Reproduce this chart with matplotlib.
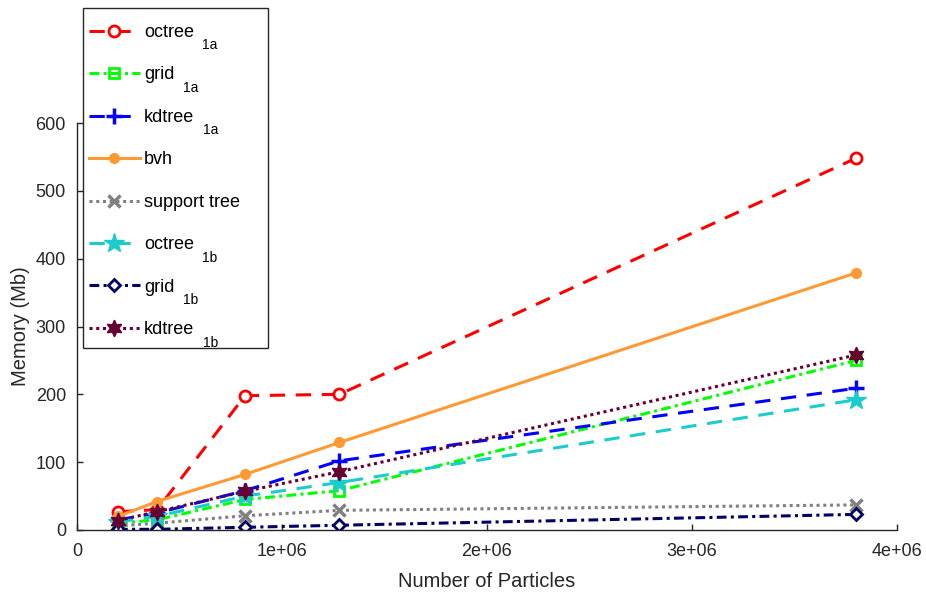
import numpy as np
import matplotlib
matplotlib.use('Agg')
from matplotlib import pyplot as plt
from matplotlib.patches import Rectangle

plt.rcParams['font.family'] = ['Liberation Sans', 'DejaVu Sans']

# particle counts and memory use (Mb) per structure
particles = [2.0e5, 3.9e5, 8.2e5, 1.28e6, 3.8e6]
octree_1a = [27, 30, 198, 200, 548]
grid_1a = [10, 15, 45, 58, 250]
kdtree_1a = [15, 25, 58, 102, 209]
bvh = [20, 42, 82, 129, 379]
support_tree = [6, 10, 21, 29, 37]
octree_1b = [12, 20, 50, 70, 192]
grid_1b = [1, 1, 4, 7, 23]
kdtree_1b = [14, 27, 57, 86, 258]

names = ['octree', 'grid', 'kdtree', 'bvh', 'support tree', 'octree', 'grid', 'kdtree']
subscripts = ['1a', '1a', '1a', '', '', '1b', '1b', '1b']

x_ticks = [0, 1e6, 2e6, 3e6, 4e6]
x_tick_labels = ['0', '1e+06', '2e+06', '3e+06', '4e+06']
y_ticks = [0, 100, 200, 300, 400, 500, 600]

dark = '#262626'
lw = 2.2
dash = (5, 3.5)
dashdot = (3.2, 1.4, 1, 1.4)
dot = (1, 1.2)

W, H = 926, 593
fig = plt.figure(figsize=(W / 100, H / 100), dpi=100)
ax = fig.add_axes([77 / W, 1 - 530 / H, 820 / W, 407 / H])

ax.plot(particles, octree_1a, color='red', lw=lw, dashes=dash, marker='o', ms=8,
        mfc='white', mec='red', mew=2, label=names[0])
ax.plot(particles, grid_1a, color='#00ff00', lw=lw, dashes=dashdot, marker='s', ms=7.5,
        mfc='none', mec='#00ff00', mew=2, label=names[1])
ax.plot(particles, kdtree_1a, color='blue', lw=lw, dashes=dash, marker='+', ms=11,
        mew=2.5, label=names[2])
ax.plot(particles, bvh, color='#ff9933', lw=lw, ls='-', marker='o', ms=7,
        mfc='#ff9933', mec='#ff9933', label=names[3])
ax.plot(particles, support_tree, color='#808080', lw=lw, dashes=dot, marker='x', ms=8,
        mew=2.5, label=names[4])
ax.plot(particles, octree_1b, color='#1acccc', lw=lw, dashes=dash, marker='*', ms=15,
        mfc='#1acccc', mec='#1acccc', label=names[5])
ax.plot(particles, grid_1b, color='#000066', lw=lw, dashes=dashdot, marker='D', ms=6.5,
        mfc='white', mec='#000066', mew=2, label=names[6])
ax.plot(particles, kdtree_1b, color='#660033', lw=lw, dashes=dot, marker=(6, 1, 0), ms=12,
        mfc='#660033', mec='#660033', label=names[7])

ax.set_xlim(0, 4e6)
ax.set_ylim(0, 600)
ax.set_xticks(x_ticks)
ax.set_xticklabels(x_tick_labels)
ax.set_yticks(y_ticks)
ax.tick_params(direction='in', length=4, width=1, colors=dark, labelsize=13)
ax.tick_params(axis='x', pad=9)
ax.tick_params(axis='y', pad=8)
for side in ['top', 'right']:
    ax.spines[side].set_visible(False)
for side in ['left', 'bottom']:
    ax.spines[side].set_color(dark)
    ax.spines[side].set_linewidth(1)

ax.set_xlabel('Number of Particles', fontsize=14.5, color=dark, labelpad=9)
ax.set_ylabel('Memory (Mb)', fontsize=14.5, color=dark, labelpad=4)

# legend box drawn by hand so it can stick out above the axes
box = Rectangle((83 / W, 1 - 348 / H), 185 / W, 340 / H, transform=fig.transFigure,
                facecolor='white', edgecolor=dark, lw=1, clip_on=False, zorder=4.5)
ax.add_patch(box)

leg = ax.legend(loc='upper left', bbox_to_anchor=(89 / W, 1 - 24 / H),
                bbox_transform=fig.transFigure, fontsize=13, frameon=False,
                borderpad=0, handlelength=2.8, handletextpad=0.25,
                labelspacing=1.41, borderaxespad=0)

# subscripts hang below and right of the legend names
for txt, sub in zip(leg.get_texts(), subscripts):
    if sub:
        ax.annotate(sub, xy=(1, 0), xycoords=txt, xytext=(6, -6),
                    textcoords='offset points', fontsize=10, color='black',
                    va='baseline', ha='left', annotation_clip=False, zorder=6)

fig.savefig('out.png', dpi=100)
